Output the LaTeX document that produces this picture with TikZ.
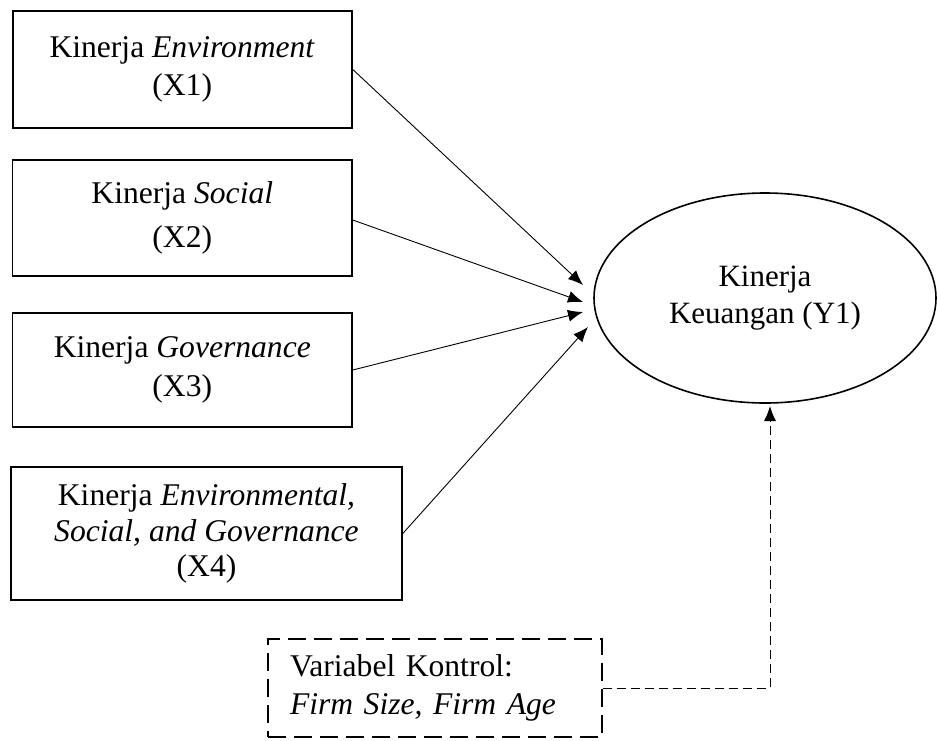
\documentclass[tikz,border=0pt]{standalone}
\usepackage{fontspec}
\setmainfont{Liberation Serif}
\usetikzlibrary{arrows.meta,shapes.geometric}
\begin{document}
\begin{tikzpicture}[x=1pt,y=-1pt,
  txt/.style={font=\fontsize{31.6}{38.5}\selectfont},
  box/.style={draw,line width=1.6pt,rectangle,inner sep=0pt,align=center,txt},
  arr/.style={line width=0.9pt,-{Latex[length=15pt,width=12pt]}},
  ctrl/.style={draw,line width=1.6pt,dash pattern=on 18pt off 8pt,rectangle,inner xsep=22pt,inner ysep=0pt,text width=290pt,align=left,txt},
  darr/.style={line width=0.9pt,dash pattern=on 9pt off 5pt,-{Latex[length=15pt,width=12pt]}}]
\useasboundingbox (0,0) rectangle (937,740);
\node[box,minimum width=339pt,minimum height=117pt] (b1) at (182.2,69.2) {Kinerja \textit{Environment}\\(X1)};
\node[box,minimum width=339.3pt,minimum height=116pt] (b2) at (182.3,218) {Kinerja \textit{Social}\\[5pt](X2)};
\node[box,minimum width=339.3pt,minimum height=114pt] (b3) at (182.3,370) {Kinerja \textit{Governance}\\(X3)};
\node[box,minimum width=391pt,minimum height=133pt,font=\fontsize{31.6}{35.5}\selectfont] (b4) at (206.5,533.5) {Kinerja \textit{Environmental,}\\\textit{Social, and Governance}\\(X4)};
\node[ellipse,draw,line width=1.6pt,minimum width=342pt,minimum height=210pt,inner sep=0pt,align=center,font=\fontsize{31}{37}\selectfont] (y) at (765,298) {Kinerja\\Keuangan (Y1)};
\node[ctrl,minimum height=98pt] (k) at (435,688) {Variabel Kontrol:\\\textit{Firm Size, Firm Age}};
\coordinate (t1) at (583,285);
\coordinate (t2) at (583,302);
\coordinate (t3) at (583,312);
\coordinate (t4) at (588,327);
\coordinate (tk) at (770,406);
\draw[arr] (b1.east) -- (t1);
\draw[arr] (b2.east |- 0,220) -- (t2);
\draw[arr] (b3.east) -- (t3);
\draw[arr] (b4.east) -- (t4);
\draw[darr] (k.east) -| (tk);
\end{tikzpicture}
\end{document}
